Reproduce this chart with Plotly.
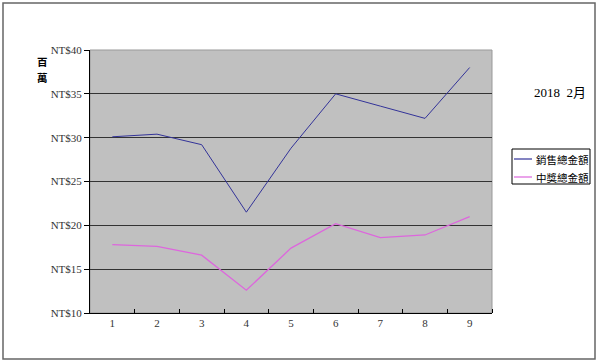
import plotly.graph_objects as go

months = [1, 2, 3, 4, 5, 6, 7, 8, 9]
sales = [30.1, 30.4, 29.2, 21.5, 28.8, 35.0, 33.6, 32.2, 38.0]
prizes = [17.8, 17.6, 16.6, 12.6, 17.4, 20.2, 18.6, 18.9, 21.0]
series_names = ["銷售總金額", "中獎總金額"]
series_colors = ["#333399", "#dd66dd"]
y_ticks = [10, 15, 20, 25, 30, 35, 40]
y_labels = ["NT$10", "NT$15", "NT$20", "NT$25", "NT$30", "NT$35", "NT$40"]

W, H = 600, 363
L, R, T, B = 90, 492, 50, 313

fig = go.Figure()
fig.add_trace(go.Scatter(x=months, y=sales, mode="lines", name=series_names[0],
                         line=dict(color=series_colors[0], width=1)))
fig.add_trace(go.Scatter(x=months, y=prizes, mode="lines", name=series_names[1],
                         line=dict(color=series_colors[1], width=1.3)))

def px(x):
    return (x - L) / (R - L)

def py(y):
    return (B - y) / (B - T)

shapes = [
    dict(type="rect", xref="paper", yref="paper",
         x0=0, x1=1, y0=0, y1=1, line=dict(color="#999999", width=1),
         layer="below"),
    dict(type="rect", xref="paper", yref="paper",
         x0=px(3), x1=px(595), y0=py(359), y1=py(3),
         line=dict(color="#666666", width=1.5)),
    # legend box
    dict(type="rect", xref="paper", yref="paper",
         x0=px(512), x1=px(590), y0=py(184), y1=py(149),
         line=dict(color="black", width=1), fillcolor="white"),
]
annotations = [
    dict(text="2018  2月", xref="paper", yref="paper", x=px(560), y=py(93),
         xanchor="center", yanchor="middle", showarrow=False,
         font=dict(family="Liberation Serif, Noto Sans CJK TC", size=13, color="black")),
    dict(text="<b>百</b>", xref="paper", yref="paper", x=px(42), y=py(61),
         xanchor="center", yanchor="middle", showarrow=False,
         font=dict(family="Noto Sans CJK TC", size=10.5, color="black")),
    dict(text="<b>萬</b>", xref="paper", yref="paper", x=px(42), y=py(77),
         xanchor="center", yanchor="middle", showarrow=False,
         font=dict(family="Noto Sans CJK TC", size=10.5, color="black")),
]
for i, (name, col) in enumerate(zip(series_names, series_colors)):
    yy = 159 + 18 * i
    shapes.append(dict(type="line", xref="paper", yref="paper",
                       x0=px(514), x1=px(532), y0=py(yy), y1=py(yy),
                       line=dict(color=col, width=1.2)))
    annotations.append(dict(text=name, xref="paper", yref="paper",
                            x=px(534), y=py(yy), xanchor="left", yanchor="middle",
                            showarrow=False,
                            font=dict(family="Noto Sans CJK TC", size=10.5, color="black")))

fig.update_layout(
    width=W, height=H,
    margin=dict(l=L, r=W - R, t=T, b=H - B, autoexpand=False),
    paper_bgcolor="white",
    plot_bgcolor="#c0c0c0",
    showlegend=False,
    xaxis=dict(range=[0.5, 9.5], tickvals=months, ticktext=[str(m) for m in months],
               ticks="", showgrid=False, zeroline=False,
               showline=True, linecolor="black", linewidth=1,
               tickfont=dict(family="Liberation Serif", size=11, color="#333"),
               minor=dict(tickvals=[m + 0.5 for m in months], ticks="inside",
                          ticklen=4, tickcolor="black", showgrid=False),
               fixedrange=True),
    yaxis=dict(range=[10, 40], tickvals=y_ticks, ticktext=y_labels,
               ticks="outside", ticklen=5, tickcolor="black",
               showgrid=True, gridcolor="#333333", gridwidth=1,
               zeroline=False, showline=True, linecolor="black", linewidth=1,
               tickfont=dict(family="Liberation Serif", size=11, color="#333"),
               fixedrange=True),
    shapes=shapes,
    annotations=annotations,
)

fig.write_html("out.html")
